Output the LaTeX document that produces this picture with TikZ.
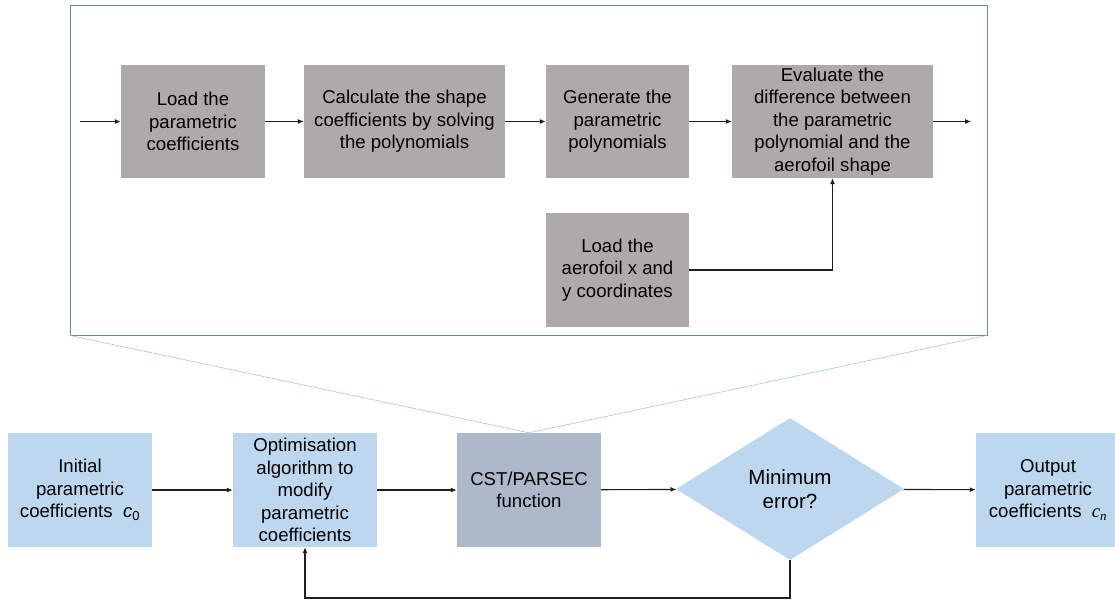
\documentclass[tikz,border=0pt]{standalone}
\usepackage{fontspec}
\setmainfont{Liberation Sans}
\newfontfamily\serifitalic{Liberation Serif}
\usetikzlibrary{arrows.meta,shapes.geometric}
\definecolor{greybox}{RGB}{174,170,170}
\definecolor{paleblue}{RGB}{189,215,238}
\definecolor{slateblue}{RGB}{173,185,202}
\definecolor{framecol}{RGB}{100,140,170}
\definecolor{zoomline}{RGB}{150,188,220}
\definecolor{linecol}{RGB}{30,30,30}
\newcommand{\coefsym}[1]{{\serifitalic\itshape c}\textsubscript{\serifitalic\itshape #1}}
\tikzset{
  x=1pt, y=-1pt,
  boxtext/.style={align=center, font=\fontsize{18.6}{22.4}\selectfont, text=black, inner sep=0pt},
  greystep/.style={boxtext, rectangle, fill=greybox, minimum height=113pt},
  bluestep/.style={boxtext, rectangle, fill=paleblue, minimum width=144pt, minimum height=114pt},
  funcstep/.style={boxtext, rectangle, fill=slateblue, minimum width=144pt, minimum height=114pt},
  decide/.style={boxtext, font=\fontsize{20.5}{24.5}\selectfont, diamond, fill=paleblue, minimum width=228pt, minimum height=142pt, aspect=1.6},
  flow/.style={draw=linecol, line width=1.1pt, -{Latex[length=6pt,width=5pt]}},
  zoomedge/.style={draw=zoomline, line width=0.7pt, dash pattern=on 1.2pt off 0.6pt}
}
\begin{document}
\begin{tikzpicture}
\useasboundingbox (0,0) rectangle (1115,601);

% detail frame showing the inside of the CST/PARSEC function
\node[draw=framecol, line width=0.8pt, rectangle, minimum width=917pt, minimum height=330pt, inner sep=0pt] (frame) at (528.5,170) {};

% inner steps
\node[greystep, minimum width=144pt] (load) at (193,121.5) {Load the\\parametric\\coefficients};
\node[greystep, minimum width=201pt] (calc) at (404.5,121.5) {Calculate the shape\\coefficients by solving\\the polynomials};
\node[greystep, minimum width=143pt] (gen) at (617.5,121.5) {Generate the\\parametric\\polynomials};
\node[greystep, minimum width=201pt] (eval) at (832.5,121.5) {Evaluate the\\difference between\\the parametric\\polynomial and the\\aerofoil shape};
\node[greystep, minimum width=143pt, minimum height=114pt] (coords) at (617.5,270) {Load the\\aerofoil x and\\y coordinates};

\coordinate (inA) at (80,121.5);
\coordinate (outA) at (971,121.5);

\draw[flow] (inA) -- (load);
\draw[flow] (load) -- (calc);
\draw[flow] (calc) -- (gen);
\draw[flow] (gen) -- (eval);
\draw[flow] (eval) -- (outA);
\draw[flow] (coords.east) -- (coords.east -| eval.south) -- (eval.south);

% main loop
\node[bluestep] (init) at (80,490) {Initial\\parametric\\coefficients \ \textit{c}\textsubscript{0}};
\node[bluestep] (opt) at (305,490) {Optimisation\\algorithm to\\modify\\parametric\\coefficients};
\node[funcstep] (cst) at (529,490) {CST/PARSEC\\function};
\node[decide] (minerr) at (790,489) {Minimum\\error?};
\node[bluestep] (out) at (1048,490) {Output\\parametric\\coefficients \ \coefsym{n}};

% zoom lines from the function box to the detail frame
\draw[zoomedge] (frame.south west) -- (cst.north) -- (frame.south east);

\coordinate (loopY) at (0,598);
\draw[flow] (init) -- (opt);
\draw[flow] (opt) -- (cst);
\draw[flow] (cst) -- (minerr);
\draw[flow] (minerr) -- (out);
\draw[flow] (minerr.south) -- (minerr.south |- loopY) -- (opt.south |- loopY) -- (opt.south);
\end{tikzpicture}
\end{document}
